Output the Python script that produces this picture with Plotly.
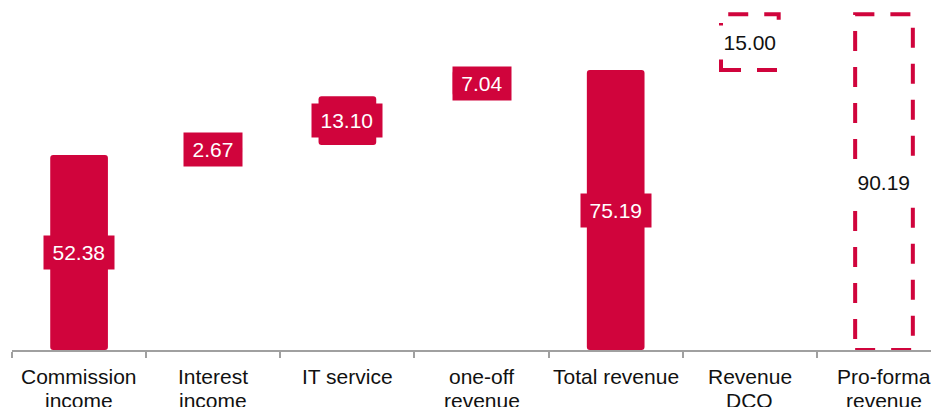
import plotly.graph_objects as go

categories = ["Commission<br>income", "Interest<br>income", "IT service", "one-off<br>revenue",
              "Total revenue", "Revenue<br>DCO", "Pro-forma<br>revenue"]
values = [52.38, 2.67, 13.10, 7.04, 75.19, 15.00, 90.19]
measures = ["absolute", "relative", "relative", "relative", "total", "relative", "total"]
styles = ["solid", "solid", "solid", "solid", "solid", "dashed", "dashed"]
labels = ["52.38", "2.67", "13.10", "7.04", "75.19", "15.00", "90.19"]

RED = "#D0043C"
FONT = "Liberation Sans, Arial, sans-serif"
FS = 21
BAR_W = 0.43

# bases from running total
bases = []
running = 0.0
for v, m in zip(values, measures):
    if m == "absolute":
        bases.append(0.0)
        running = v
    elif m == "relative":
        bases.append(running)
        running += v
    else:
        bases.append(0.0)
        running = v

fig = go.Figure()

solid_idx = [i for i, s in enumerate(styles) if s == "solid"]
dash_idx = [i for i, s in enumerate(styles) if s == "dashed"]

fig.add_trace(go.Bar(
    x=[categories[i] for i in solid_idx],
    y=[values[i] for i in solid_idx],
    base=[bases[i] for i in solid_idx],
    width=BAR_W,
    marker=dict(color=RED, line=dict(width=0), cornerradius=3),
    hoverinfo="skip",
))
fig.add_trace(go.Bar(
    x=[categories[i] for i in dash_idx],
    y=[values[i] for i in dash_idx],
    base=[bases[i] for i in dash_idx],
    width=BAR_W,
    marker=dict(color="rgba(0,0,0,0)", line=dict(width=0)),
    hoverinfo="skip",
))

for i in dash_idx:
    fig.add_shape(type="rect", xref="x", yref="y",
                  x0=i - BAR_W / 2, x1=i + BAR_W / 2,
                  y0=bases[i], y1=bases[i] + values[i],
                  line=dict(color=RED, width=4, dash="20px,16px"),
                  fillcolor="rgba(0,0,0,0)", layer="above")

def text_w(s):
    w = 0
    for ch in s:
        w += 0.278 if ch == "." else 0.556
    return w * FS

for i, lab in enumerate(labels):
    ymid = bases[i] + values[i] / 2
    solid = styles[i] == "solid"
    fig.add_annotation(x=categories[i], y=ymid, xref="x", yref="y", text=lab,
                       showarrow=False,
                       font=dict(family=FONT, size=FS, color="white" if solid else "#111111"),
                       bgcolor=RED if solid else "white", borderpad=3,
                       width=text_w(lab) + 11, height=27,
                       align="center", valign="middle")

# category labels, one annotation per line (tighter line spacing than tick labels)
LINE_SHIFTS = [-13, -36.5]
for i, cat in enumerate(categories):
    for k, line in enumerate(cat.split("<br>")):
        fig.add_annotation(x=categories[i], y=0, xref="x", yref="paper", text=line,
                           showarrow=False, yanchor="top", yshift=LINE_SHIFTS[k],
                           font=dict(family=FONT, size=FS, color="#111111"))

fig.update_layout(
    width=931, height=399,
    margin=dict(l=4, r=0, t=0, b=57),
    paper_bgcolor="white", plot_bgcolor="white",
    showlegend=False, barmode="overlay",
    font=dict(family=FONT, size=FS, color="#111111"),
)
fig.update_xaxes(
    type="category", categoryorder="array", categoryarray=categories,
    range=[-0.5, 6.41], showgrid=False, showline=True, linecolor="#A0A0A0", linewidth=2,
    ticks="outside", tickson="boundaries", ticklen=6, tickcolor="#A0A0A0", tickwidth=1.5,
    showticklabels=False, zeroline=False,
)
fig.update_yaxes(range=[0, 91.84], visible=False, showgrid=False, zeroline=False)

fig.write_html("out.html")
